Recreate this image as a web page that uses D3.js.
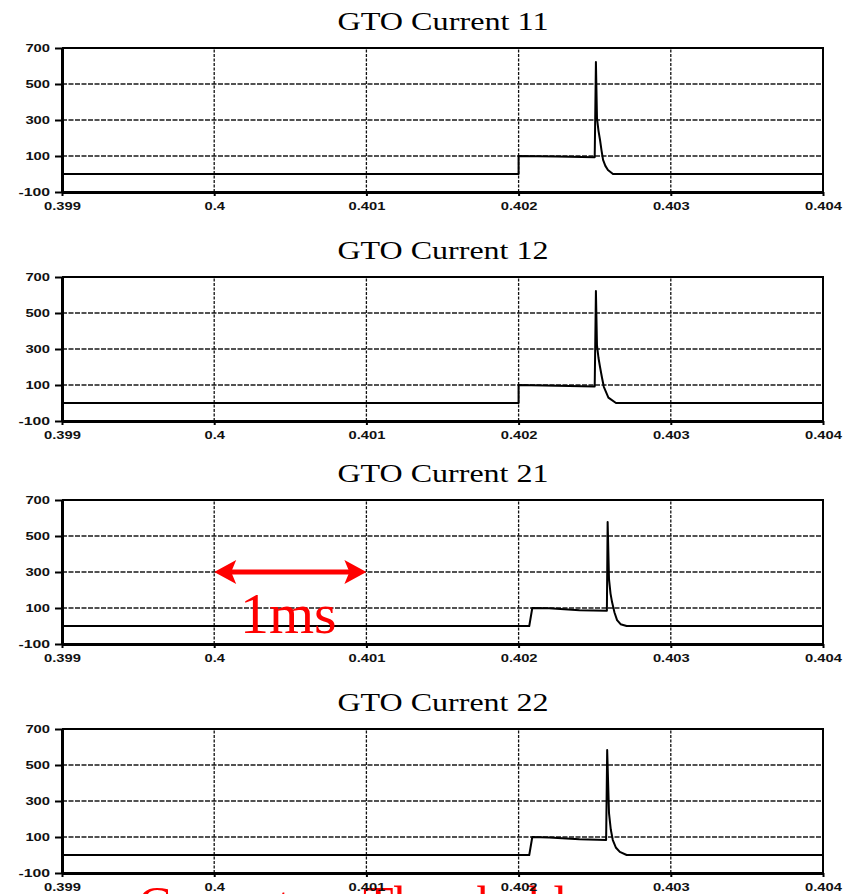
<!DOCTYPE html>
<html>
<head>
<meta charset="utf-8">
<script src="https://cdn.jsdelivr.net/npm/d3@7"></script>
<style>
  body { margin: 0; background: #fff; }
  svg { display: block; }
</style>
</head>
<body>
<script>
// axis values
var xTicks = [0.399, 0.4, 0.401, 0.402, 0.403, 0.404];
var xTickLabels = ["0.399", "0.4", "0.401", "0.402", "0.403", "0.404"];
var yTicks = [-100, 100, 300, 500, 700];
var gridY = [100, 300, 500];
var gridX = [0.4, 0.401, 0.402, 0.403];
var titles = ["GTO Current 11", "GTO Current 12", "GTO Current 21", "GTO Current 22"];

// (time in s, current in A)
var t11 = [0.399, 0.402, 0.402, 0.40225, 0.4025, 0.402508, 0.402515, 0.402525, 0.402535, 0.402545, 0.402555, 0.40257, 0.402587, 0.40262, 0.404];
var i11 = [0, 0, 100, 97, 93, 622, 311, 240, 189, 130, 78, 45, 22, 0, 0];
var t12 = [0.399, 0.402, 0.402, 0.40225, 0.4025, 0.402508, 0.402515, 0.402525, 0.402535, 0.402548, 0.40256, 0.40259, 0.40264, 0.404];
var i12 = [0, 0, 100, 96, 92, 622, 320, 250, 200, 140, 90, 30, 0, 0];
var t21 = [0.399, 0.40207, 0.40209, 0.4022, 0.4024, 0.40258, 0.402585, 0.402594, 0.402604, 0.402614, 0.40263, 0.402647, 0.40267, 0.40271, 0.404];
var i21 = [0, 0, 100, 98, 88, 85, 578, 261, 180, 133, 75, 33, 10, 0, 0];
var t22 = [0.399, 0.40207, 0.40209, 0.4022, 0.4024, 0.402575, 0.402582, 0.402594, 0.402606, 0.402619, 0.40264, 0.402665, 0.40271, 0.404];
var i22 = [0, 0, 100, 97, 88, 84, 583, 233, 140, 83, 40, 17, 0, 0];

var series = [[t11, i11], [t12, i12], [t21, i21], [t22, i22]];
var panelTops = [48, 277, 500, 729];
var panelH = 144;

var svg = d3.select("body").append("svg")
  .attr("width", 851)
  .attr("height", 894);

var x = d3.scaleLinear().domain([0.399, 0.404]).range([62, 823]);
var red = "#f00";
var serif = "Liberation Serif, Times New Roman, serif";

// red caption cut off by the bottom edge (drawn first, labels sit over it)
svg.append("text")
  .attr("x", 138).attr("y", 921)
  .attr("fill", red)
  .attr("font-family", serif)
  .attr("font-size", 50)
  .text("Current");
svg.append("text")
  .attr("x", 363).attr("y", 921)
  .attr("fill", red)
  .attr("font-family", serif)
  .attr("font-size", 50)
  .text("Threshold");

function labelLen(s) {
  var w = 0;
  for (var k = 0; k < s.length; k++) {
    var c = s[k];
    w += c === "." ? 4 : (c === "-" ? 7 : 8.2);
  }
  return w;
}

series.forEach(function(s, p) {
  var top = panelTops[p];
  var y = d3.scaleLinear().domain([-100, 700]).range([top + panelH, top]);
  var g = svg.append("g");

  // title
  g.append("text")
    .attr("x", 443)
    .attr("y", top - 18)
    .attr("text-anchor", "middle")
    .attr("font-family", serif)
    .attr("font-size", 26)
    .attr("textLength", 211)
    .attr("lengthAdjust", "spacingAndGlyphs")
    .text(titles[p]);

  // grid
  g.selectAll(".gy").data(gridY).enter().append("line")
    .attr("x1", x(0.399)).attr("x2", x(0.404))
    .attr("y1", function(d) { return y(d); })
    .attr("y2", function(d) { return y(d); })
    .attr("stroke", "#1a1a1a").attr("stroke-width", 1.3)
    .attr("stroke-dasharray", "5,1.5");
  g.selectAll(".gx").data(gridX).enter().append("line")
    .attr("x1", function(d) { return x(d); })
    .attr("x2", function(d) { return x(d); })
    .attr("y1", y(-100)).attr("y2", y(700))
    .attr("stroke", "#111").attr("stroke-width", 1.3)
    .attr("stroke-dasharray", "3,1.5");

  // top and right frame
  g.append("path")
    .attr("d", "M" + x(0.399) + "," + y(700) + "H" + x(0.404) + "V" + y(-100))
    .attr("fill", "none").attr("stroke", "#000").attr("stroke-width", 2);

  // data
  var pts = s[0].map(function(t, k) { return [t, s[1][k]]; });
  g.append("path")
    .datum(pts)
    .attr("fill", "none")
    .attr("stroke", "#000")
    .attr("stroke-width", 2)
    .attr("stroke-linejoin", "round")
    .attr("d", d3.line().x(function(d) { return x(d[0]); }).y(function(d) { return y(d[1]); }));

  // axes
  var ay = g.append("g").attr("transform", "translate(" + x(0.399) + ",0)")
    .call(d3.axisLeft(y).tickValues(yTicks).tickSize(7).tickSizeOuter(0).tickPadding(5)
      .tickFormat(function(d) { return String(d); }));
  var ax = g.append("g").attr("transform", "translate(0," + y(-100) + ")")
    .call(d3.axisBottom(x).tickValues(xTicks).tickSize(4).tickSizeOuter(0).tickPadding(6)
      .tickFormat(function(d, k) { return xTickLabels[k]; }));
  [ay, ax].forEach(function(a) {
    a.select(".domain").attr("stroke", "#000").attr("stroke-width", 3);
    a.selectAll(".tick line").attr("stroke", "#000").attr("stroke-width", 2);
    a.selectAll(".tick text")
      .attr("fill", "#111")
      .attr("font-family", "Liberation Sans, Arial, sans-serif")
      .attr("font-weight", "bold")
      .attr("font-size", 11)
      .attr("textLength", function() { return labelLen(d3.select(this).text()); })
      .attr("lengthAdjust", "spacingAndGlyphs");
  });
});

// red annotation on the third panel
var y3 = d3.scaleLinear().domain([-100, 700]).range([panelTops[2] + panelH, panelTops[2]]);
var ay3 = y3(300);
var xa = x(0.4), xb = x(0.401);
svg.append("line")
  .attr("x1", xa + 12).attr("x2", xb - 12)
  .attr("y1", ay3).attr("y2", ay3)
  .attr("stroke", red).attr("stroke-width", 5);
svg.append("path")
  .attr("d", "M" + xa + "," + ay3 + "l22,-12l-5,12l5,12z")
  .attr("fill", red);
svg.append("path")
  .attr("d", "M" + xb + "," + ay3 + "l-22,-12l5,12l-5,12z")
  .attr("fill", red);
svg.append("text")
  .attr("x", 240)
  .attr("y", 633)
  .attr("fill", red)
  .attr("font-family", serif)
  .attr("font-size", 58)
  .text("1ms");
</script>
</body>
</html>
